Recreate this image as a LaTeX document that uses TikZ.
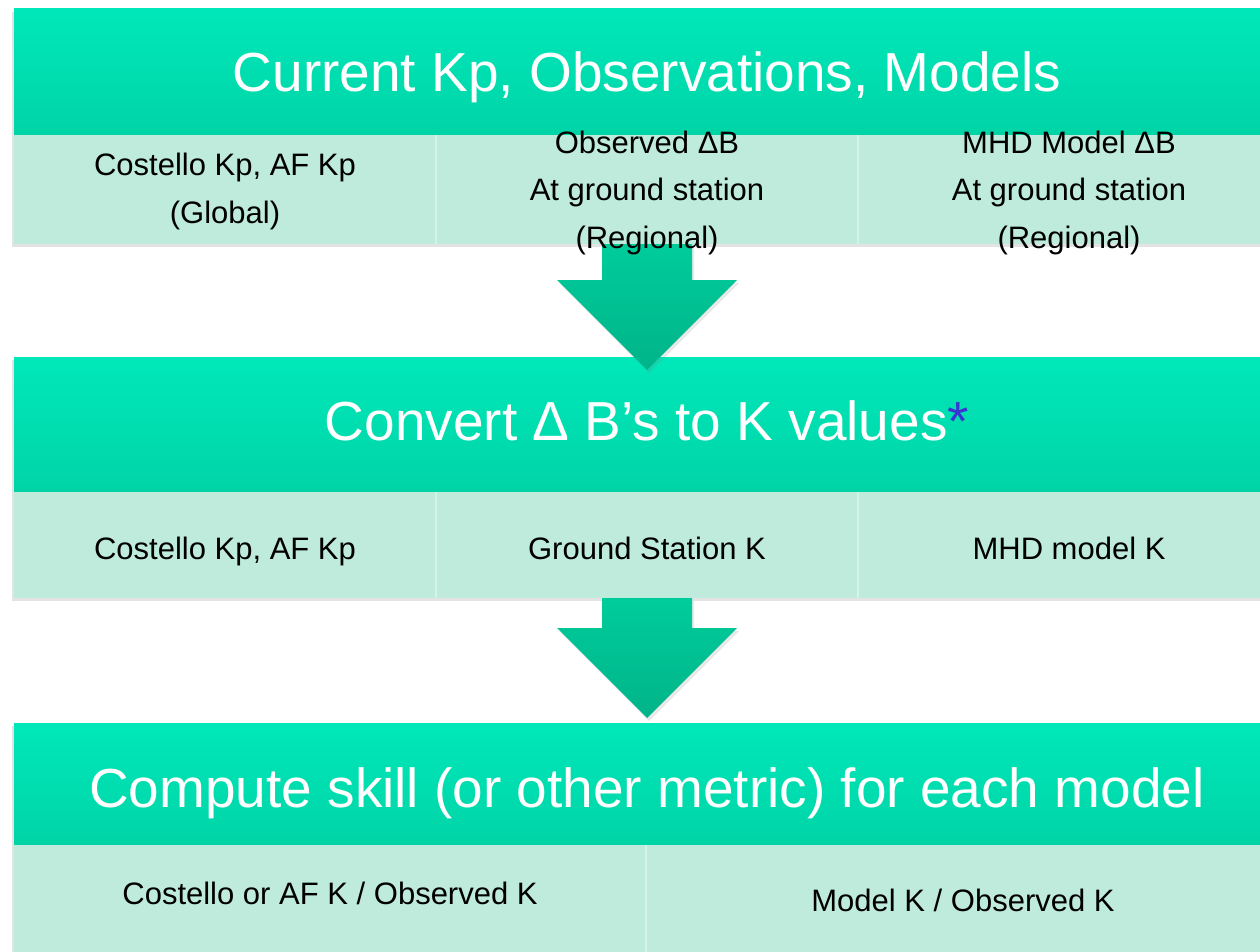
\documentclass[tikz,border=0pt]{standalone}
\usepackage{fontspec}
\setmainfont{Liberation Sans}
\usetikzlibrary{shadows,calc}
\definecolor{hdrtop}{HTML}{00E8B9}
\definecolor{hdrbot}{HTML}{00D4A7}
\definecolor{subfill}{HTML}{BEEBDC}
\definecolor{sepline}{HTML}{D3F3E8}
\definecolor{arrtop}{HTML}{00CC9B}
\definecolor{arrbot}{HTML}{00B489}
\definecolor{starblue}{HTML}{3A35D2}
\begin{document}
\begin{tikzpicture}[x=1pt,y=-1pt,
  band/.style={rectangle, inner sep=0pt, outer sep=0pt, minimum width=1266pt, draw=none},
  hdr/.style={band, top color=hdrtop, bottom color=hdrbot,
    drop shadow={shadow xshift=-2pt, shadow yshift=-3pt, opacity=0.22}},
  subrow/.style={band, fill=subfill,
    drop shadow={shadow xshift=-2pt, shadow yshift=-3pt, opacity=0.22}},
  hdrtext/.style={text=white, font=\fontsize{55}{60}\selectfont, anchor=base, inner sep=0pt},
  celltext/.style={text=black, font=\fontsize{31}{47.5}\selectfont, anchor=base, align=center, inner sep=0pt},
  blockarrow/.style={top color=arrtop, bottom color=arrbot, draw=none,
    drop shadow={shadow xshift=2pt, shadow yshift=-3pt, opacity=0.18}},
  sepl/.style={draw=sepline, line width=1.3pt}]
\useasboundingbox (0,0) rectangle (1260,952);
\fill[white] (0,0) rectangle (1260,952);
\clip (0,0) rectangle (1260,952);

% band 1
\node[hdr, minimum height=126pt] (h1) at (647,72) {};
\node[subrow, minimum height=109pt] (s1) at (647,189.5) {};
% band 2
\node[hdr, minimum height=135pt] (h2) at (647,424.5) {};
\node[subrow, minimum height=106pt] (s2) at (647,545) {};
% band 3
\node[hdr, minimum height=122pt] (h3) at (647,784) {};
\node[subrow, minimum height=125pt] (s3) at (647,907.5) {};

% column separators
\draw[sepl] (436,135) -- (436,244);
\draw[sepl] (858,135) -- (858,244);
\draw[sepl] (436,492) -- (436,598);
\draw[sepl] (858,492) -- (858,598);
\draw[sepl] (646,845) -- (646,952);

% arrows
\path[blockarrow] ($(s1.south)+(-45,0)$) -- ($(s1.south)+(45,0)$) -- ($(s1.south)+(45,36)$)
  -- ($(s1.south)+(90,36)$) -- ($(s1.south)+(0,126)$) -- ($(s1.south)+(-90,36)$)
  -- ($(s1.south)+(-45,36)$) -- cycle;
\path[blockarrow] ($(s2.south)+(-45,0)$) -- ($(s2.south)+(45,0)$) -- ($(s2.south)+(45,30)$)
  -- ($(s2.south)+(90,30)$) -- ($(s2.south)+(0,120)$) -- ($(s2.south)+(-90,30)$)
  -- ($(s2.south)+(-45,30)$) -- cycle;

% texts (base anchor = baseline of the last line)
\node[hdrtext] (t1) at (647,92) {Current Kp, Observations, Models};
\node[celltext] (c11) at (225,223) {Costello Kp, AF Kp\\(Global)};
\node[celltext] (c12) at (647,248) {Observed ΔB\\At ground station\\(Regional)};
\node[celltext] (c13) at (1069,248) {MHD Model ΔB\\At ground station\\(Regional)};

\node[hdrtext] (t2) at (647,440) {Convert Δ B’s to K values\textcolor{starblue}{*}};
\node[celltext] (c21) at (225,559) {Costello Kp, AF Kp};
\node[celltext] (c22) at (647,559) {Ground Station K};
\node[celltext] (c23) at (1069,559) {MHD model K};

\node[hdrtext] (t3) at (647,807) {Compute skill (or other metric) for each model};
\node[celltext] (c31) at (330,904) {Costello or AF K / Observed K};
\node[celltext] (c32) at (963,911) {Model K / Observed K};
\end{tikzpicture}
\end{document}
